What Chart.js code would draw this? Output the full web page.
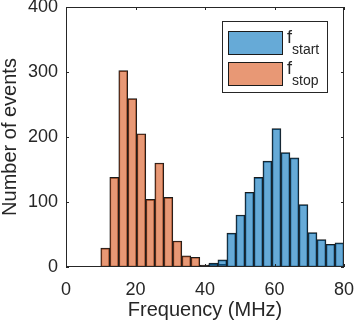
<!DOCTYPE html>
<html>
<head>
<meta charset="utf-8">
<script src="https://cdn.jsdelivr.net/npm/chart.js@4/dist/chart.umd.min.js"></script>
<style>
  html, body { margin: 0; padding: 0; background: #fff; }
  #chart { display: block; }
</style>
</head>
<body>
<canvas id="chart" width="354" height="327"></canvas>
<script>
// histogram bin centres (MHz)
const binCenters = [11.30, 13.89, 16.48, 19.07, 21.67, 24.26, 26.85, 29.45, 32.04, 34.63,
    37.22, 39.82, 42.41, 45.00, 47.59, 50.19, 52.78, 55.37, 57.96, 60.56,
    63.15, 65.74, 68.33, 70.93, 73.52, 76.11, 78.70];

// counts per bin
const startCounts = [0, 0, 0, 0, 0, 0, 0, 0, 0, 0,
    0, 2, 6, 11, 52, 80, 115, 138, 163, 213,
    176, 168, 96, 53, 42, 35, 37];
const stopCounts = [29, 138, 302, 259, 205, 104, 160, 107, 40, 17,
    15, 3, 4, 4, 0, 0, 0, 0, 0, 0,
    0, 0, 0, 0, 0, 0, 0];

const seriesSubs = ['start', 'stop'];
const xTicks = [0, 20, 40, 60, 80];
const yTicks = [0, 100, 200, 300, 400];

const TEXT = '#262626';
const FONT = "'Liberation Sans', Arial, Helvetica, sans-serif";

function toPoints(counts) {
    return binCenters
        .map((x, i) => ({ x: x, y: counts[i] }))
        .filter(p => p.y > 0);
}

// box, inward ticks (MATLAB style)
const framePlugin = {
    id: 'frame',
    afterDatasetsDraw(chart) {
        const { ctx, chartArea: a, scales } = chart;
        const tl = 3;
        ctx.save();
        ctx.strokeStyle = TEXT;
        ctx.lineWidth = 1;
        ctx.beginPath();
        ctx.rect(a.left + 0.5, a.top + 0.5, a.right - a.left - 1, a.bottom - a.top - 1);
        xTicks.forEach(v => {
            const x = Math.round(scales.x.getPixelForValue(v)) + 0.5;
            ctx.moveTo(x, a.bottom); ctx.lineTo(x, a.bottom - tl);
            ctx.moveTo(x, a.top); ctx.lineTo(x, a.top + tl);
        });
        yTicks.forEach(v => {
            const y = Math.round(scales.y.getPixelForValue(v)) + 0.5;
            ctx.moveTo(a.left, y); ctx.lineTo(a.left + tl, y);
            ctx.moveTo(a.right, y); ctx.lineTo(a.right - tl, y);
        });
        ctx.stroke();
        ctx.restore();
    }
};

// legend with subscripted labels
const legendPlugin = {
    id: 'subLegend',
    afterDraw(chart) {
        const { ctx, chartArea: a } = chart;
        const bx = a.right - 122, by = a.top + 14, bw = 106, bh = 72;
        ctx.save();
        ctx.fillStyle = '#fff';
        ctx.fillRect(bx, by, bw, bh);
        ctx.strokeStyle = TEXT;
        ctx.lineWidth = 1;
        ctx.strokeRect(bx + 0.5, by + 0.5, bw - 1, bh - 1);
        chart.data.datasets.forEach((ds, i) => {
            const sy = by + 10 + i * 31;
            const sx = bx + 6;
            ctx.fillStyle = '#fff';
            ctx.fillRect(sx, sy, 55, 24);
            ctx.fillStyle = ds.backgroundColor;
            ctx.fillRect(sx, sy, 55, 24);
            ctx.strokeStyle = ds.borderColor;
            ctx.strokeRect(sx + 0.5, sy + 0.5, 54, 23);
            ctx.fillStyle = TEXT;
            ctx.textBaseline = 'alphabetic';
            ctx.textAlign = 'left';
            ctx.font = '18px ' + FONT;
            ctx.fillText('f', bx + 65, sy + 12);
            ctx.font = '14px ' + FONT;
            ctx.fillText(seriesSubs[i], bx + 70, sy + 23);
        });
        ctx.restore();
    }
};

const ctx = document.getElementById('chart').getContext('2d');
new Chart(ctx, {
    type: 'bar',
    data: {
        datasets: [
            {
                label: 'f_start',
                data: toPoints(startCounts),
                backgroundColor: 'rgba(0, 114, 189, 0.6)',
                borderColor: '#1a1a1a',
                borderWidth: 1,
                borderSkipped: false
            },
            {
                label: 'f_stop',
                data: toPoints(stopCounts),
                backgroundColor: 'rgba(217, 83, 25, 0.6)',
                borderColor: '#1a1a1a',
                borderWidth: 1,
                borderSkipped: false
            }
        ]
    },
    options: {
        responsive: false,
        animation: false,
        devicePixelRatio: 1,
        layout: { padding: { top: 7, right: 10, left: 0, bottom: 0 } },
        datasets: {
            bar: { barPercentage: 1, categoryPercentage: 1, grouped: false }
        },
        plugins: {
            legend: { display: false },
            tooltip: { enabled: false }
        },
        scales: {
            x: {
                type: 'linear',
                offset: false,
                min: 0,
                max: 80,
                grid: { display: false, drawTicks: false, offset: false },
                border: { display: false },
                afterBuildTicks: s => { s.ticks = xTicks.map(v => ({ value: v })); },
                afterFit: s => {
                    s.height = 60;
                    s.paddingLeft = 0; s.paddingRight = 0;
                },
                ticks: {
                    color: TEXT,
                    padding: 12,
                    maxRotation: 0,
                    font: { family: FONT, size: 18 }
                },
                title: {
                    display: true,
                    text: 'Frequency (MHz)',
                    color: TEXT,
                    padding: { top: 0, bottom: 7 },
                    font: { family: FONT, size: 20, lineHeight: 1 }
                }
            },
            y: {
                min: 0,
                max: 400,
                grid: { display: false, drawTicks: false },
                border: { display: false },
                afterBuildTicks: s => { s.ticks = yTicks.map(v => ({ value: v })); },
                afterFit: s => {
                    s.width = 66;
                    s.paddingTop = 0; s.paddingBottom = 0;
                },
                ticks: {
                    color: TEXT,
                    padding: 8,
                    font: { family: FONT, size: 18 }
                },
                title: {
                    display: true,
                    text: 'Number of events',
                    color: TEXT,
                    padding: { top: 0, bottom: 0 },
                    font: { family: FONT, size: 20, lineHeight: 1 }
                }
            }
        }
    },
    plugins: [framePlugin, legendPlugin]
});
</script>
</body>
</html>
